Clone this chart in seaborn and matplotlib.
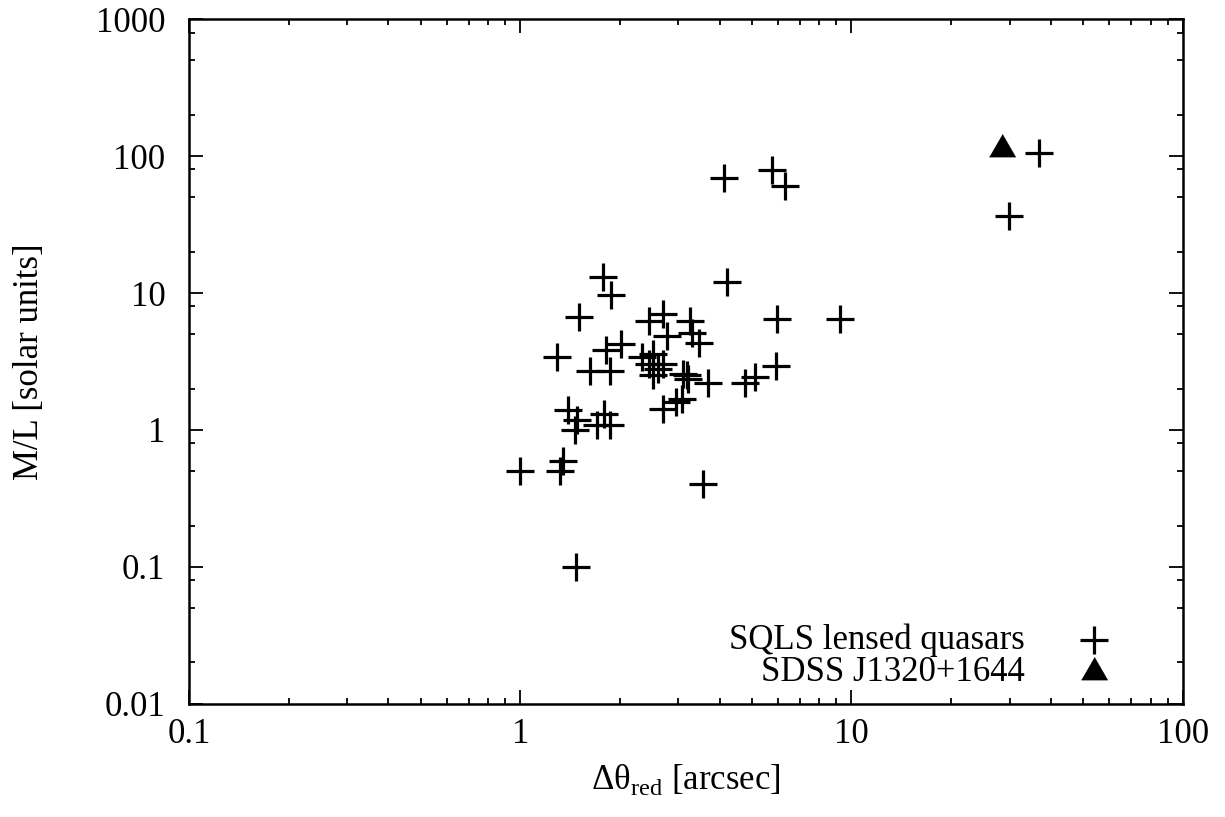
import matplotlib
matplotlib.use("Agg")
import matplotlib.pyplot as plt
from matplotlib.ticker import LogLocator, FuncFormatter, NullFormatter
import seaborn as sns
import pandas as pd

# SQLS lensed quasars
sep = [1.00, 1.32, 1.35, 3.57, 1.47, 1.39, 1.48, 1.46, 1.79, 1.70,
       1.86, 1.29, 1.62, 1.87, 1.82, 2.02, 1.78, 1.88, 1.50, 4.20,
       2.44, 2.69, 2.78, 3.26, 3.29, 3.47, 2.33, 2.52, 2.44, 2.61,
       2.52, 2.70, 3.11, 3.22, 3.70, 2.69, 2.95, 3.07, 3.18, 4.77,
       5.11, 5.90, 5.97, 9.25, 4.11, 5.75, 6.31, 29.8, 36.9]
ml = [0.50, 0.50, 0.59, 0.40, 0.10, 1.39, 1.19, 1.00, 1.30, 1.09,
      1.09, 3.41, 2.68, 2.68, 3.82, 4.27, 13.1, 9.6, 6.7, 12.0,
      6.2, 7.07, 4.83, 6.3, 5.1, 4.3, 3.41, 3.61, 3.05, 2.81,
      2.51, 3.05, 2.58, 2.37, 2.20, 1.41, 1.60, 1.69, 2.51, 2.20,
      2.44, 2.92, 6.5, 6.5, 69.5, 79.6, 60.2, 36.3, 105.0]

# SDSS J1320+1644
j1320_sep = [28.5]
j1320_ml = [113.0]

sns.set_style("ticks")
plt.rcParams["font.family"] = ["Liberation Serif", "DejaVu Serif"]
plt.rcParams["mathtext.fontset"] = "custom"
plt.rcParams["mathtext.rm"] = "Liberation Serif"
for k in ["text.color", "axes.labelcolor", "xtick.color", "ytick.color", "axes.edgecolor"]:
    plt.rcParams[k] = "black"
fs = 25

fig = plt.figure(figsize=(12.25, 8.17), dpi=100)
ax = fig.add_axes([0.1543, 0.1387, 0.8112, 0.8377])

df = pd.DataFrame({"sep": sep, "ml": ml})
sns.scatterplot(data=df, x="sep", y="ml", marker="+", s=380, color="black",
                linewidth=2.3, label="SQLS lensed quasars", ax=ax)

tri = [(-1, -0.577), (1, -0.577), (0, 1.155)]
sns.scatterplot(x=j1320_sep, y=j1320_ml, marker=tri, s=470, color="black",
                edgecolor="black", linewidth=0.5, label="SDSS J1320+1644", ax=ax)

ax.set_xscale("log")
ax.set_yscale("log")
ax.set_xlim(0.1, 100)
ax.set_ylim(0.01, 1000)

fmt = FuncFormatter(lambda v, _: f"{v:g}")
ax.xaxis.set_major_locator(LogLocator(base=10, numticks=10))
ax.yaxis.set_major_locator(LogLocator(base=10, numticks=10))
ax.xaxis.set_major_formatter(fmt)
ax.yaxis.set_major_formatter(fmt)
ax.xaxis.set_minor_locator(LogLocator(base=10, subs=range(2, 10), numticks=20))
ax.yaxis.set_minor_locator(LogLocator(base=10, subs=[2, 5, 8], numticks=20))
ax.xaxis.set_minor_formatter(NullFormatter())
ax.yaxis.set_minor_formatter(NullFormatter())

ax.tick_params(which="both", direction="in", top=True, right=True, width=1.3)
ax.tick_params(which="major", length=10, labelsize=fs)
ax.tick_params(axis="y", which="major", pad=17)
ax.tick_params(axis="x", which="major", pad=10)
ax.tick_params(which="minor", length=4.5)
for sp in ax.spines.values():
    sp.set_linewidth(1.8)

ax.set_xlabel("Δθ$_{\\mathrm{red}}$ [arcsec]", fontsize=fs, labelpad=8)
ax.set_ylabel("M/L [solar units]", fontsize=fs, labelpad=36)

ax.legend(loc="lower right", bbox_to_anchor=(0.9285, 0.0215), markerfirst=False,
          frameon=False, fontsize=fs, labelspacing=-0.04, handletextpad=1.49,
          handlelength=1.0, borderaxespad=0, borderpad=0)

fig.savefig("out.png", dpi=100)
